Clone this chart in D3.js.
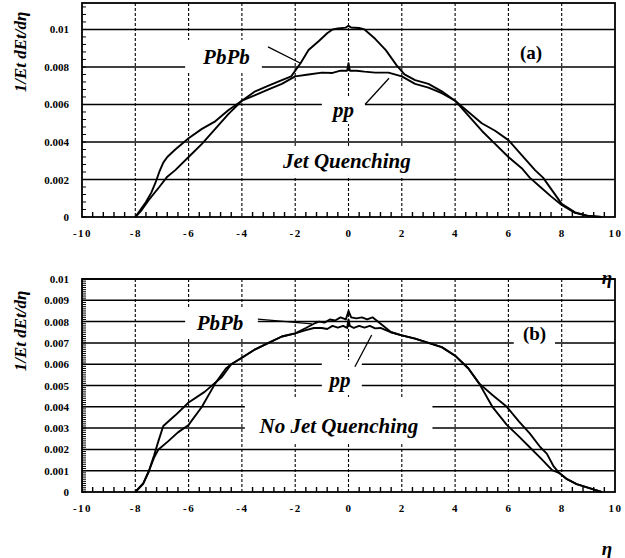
<!DOCTYPE html>
<html>
<head>
<meta charset="utf-8">
<script src="https://cdn.jsdelivr.net/npm/d3@7"></script>
<style>
    html, body { margin: 0; padding: 0; background: #fff; }
    svg { display: block; }
    .tick text { font-family: "Liberation Serif", serif; font-weight: bold; font-size: 11px; fill: #000; }
    .x-axis .tick text { letter-spacing: 1.5px; }
    .note { font-family: "Liberation Serif", serif; font-weight: bold; font-style: italic; fill: #000; }
    .plain { font-style: normal; }
</style>
</head>
<body>
<svg id="chart" width="625" height="558"></svg>
<script>
(function(){
    'use strict';

    /*******************************************************************
     *                              DATA                               *
     *******************************************************************/

    //Major ticks on eta axis
    var etaTicks = [-10, -8, -6, -4, -2, 0, 2, 4, 6, 8, 10];

    //Value ticks, panel (a) and (b)
    var yTicksA = [0, 0.002, 0.004, 0.006, 0.008, 0.01];
    var yTicksB = [0, 0.001, 0.002, 0.003, 0.004, 0.005, 0.006, 0.007, 0.008, 0.009, 0.01];

    //Panel (a), jet quenching : [eta, 1/Et dEt/deta]
    var ppA = [
        [-8.0, 0], [-7.8, 0.0004], [-7.6, 0.0008], [-7.4, 0.0013], [-7.25, 0.0018],
        [-7.1, 0.0024], [-6.95, 0.0029], [-6.8, 0.0032], [-6.5, 0.0036], [-6.0, 0.0042],
        [-5.5, 0.0047], [-5.0, 0.0051], [-4.5, 0.0057], [-4.0, 0.0062], [-3.5, 0.0065],
        [-3.0, 0.0068], [-2.5, 0.0071], [-2.0, 0.0075], [-1.5, 0.0076], [-1.0, 0.0077],
        [-0.6, 0.00768], [-0.3, 0.0078], [-0.05, 0.0078], [0, 0.0082], [0.05, 0.0078],
        [0.3, 0.0078], [0.6, 0.00775], [1.0, 0.0077], [1.5, 0.0077], [2.0, 0.0075],
        [2.5, 0.0071], [3.0, 0.0069], [3.5, 0.0066], [4.0, 0.0062], [4.5, 0.0056],
        [5.0, 0.0050], [5.5, 0.0046], [6.0, 0.0041], [6.5, 0.0033], [7.0, 0.0025],
        [7.3, 0.0021], [7.6, 0.0015], [8.0, 0.0007], [8.5, 0.00025], [9.0, 0.00006], [9.5, 0]
    ];

    var pbpbA = [
        [-8.0, 0], [-7.8, 0.0003], [-7.5, 0.0009], [-7.1, 0.0016], [-6.8, 0.00215],
        [-6.5, 0.0025], [-6.0, 0.0032], [-5.5, 0.0039], [-5.0, 0.0047], [-4.5, 0.0055],
        [-4.0, 0.0062], [-3.5, 0.0067], [-3.0, 0.0070], [-2.5, 0.0073], [-2.15, 0.0075],
        [-1.8, 0.0082], [-1.5, 0.0089], [-1.1, 0.0094], [-0.8, 0.0098], [-0.6, 0.0100],
        [-0.4, 0.01005], [-0.1, 0.0101], [0, 0.0102], [0.1, 0.0101], [0.4, 0.01008],
        [0.6, 0.0100], [1.0, 0.0095], [1.4, 0.0089], [1.8, 0.0081], [2.1, 0.0076],
        [2.5, 0.0073], [3.0, 0.0071], [3.5, 0.0067], [4.0, 0.0062], [4.5, 0.0054],
        [5.0, 0.0046], [5.5, 0.0039], [6.0, 0.0032], [6.5, 0.0026], [6.8, 0.0021],
        [7.2, 0.0016], [7.6, 0.0011], [8.0, 0.00064], [8.5, 0.00022], [9.0, 0.00005], [9.5, 0]
    ];

    //Panel (b), no jet quenching
    var ppB = [
        [-8.0, 0], [-7.7, 0.0004], [-7.5, 0.00095], [-7.3, 0.0017], [-7.13, 0.0024],
        [-6.95, 0.0031], [-6.5, 0.0036], [-6.0, 0.0042], [-5.4, 0.0047], [-4.75, 0.0054],
        [-4.4, 0.0060], [-4.0, 0.0063], [-3.5, 0.0067], [-3.0, 0.0070], [-2.5, 0.0073],
        [-2.0, 0.00745], [-1.6, 0.0076], [-1.3, 0.0077], [-1.0, 0.0077], [-0.8, 0.00765],
        [-0.6, 0.0078], [-0.4, 0.00772], [-0.2, 0.0078], [-0.05, 0.0077], [0, 0.0081],
        [0.05, 0.0078], [0.2, 0.0077], [0.4, 0.0078], [0.6, 0.00772], [0.8, 0.0078],
        [1.0, 0.00768], [1.2, 0.0077], [1.4, 0.0076], [1.6, 0.0075], [2.0, 0.00735],
        [2.5, 0.0072], [3.0, 0.0070], [3.5, 0.0068], [4.0, 0.0064], [4.5, 0.0058],
        [4.9, 0.0051], [5.4, 0.00455], [5.94, 0.0040], [6.4, 0.0033], [6.8, 0.00275],
        [7.2, 0.0021], [7.44, 0.0018], [7.7, 0.0012], [7.9, 0.0009], [8.2, 0.0006],
        [8.56, 0.00037], [9.07, 0.00017], [9.5, 0]
    ];

    var pbpbB = [
        [-8.0, 0], [-7.7, 0.0004], [-7.5, 0.00095], [-7.3, 0.0016], [-7.13, 0.0020],
        [-6.75, 0.0024], [-6.4, 0.0028], [-6.0, 0.00315], [-5.5, 0.0040], [-5.0, 0.0051],
        [-4.6, 0.0058], [-4.4, 0.0060], [-4.0, 0.0063], [-3.5, 0.0067], [-3.0, 0.0070],
        [-2.5, 0.0073], [-2.0, 0.00745], [-1.6, 0.0077], [-1.3, 0.0079], [-1.1, 0.0080],
        [-0.9, 0.00795], [-0.7, 0.0081], [-0.5, 0.00805], [-0.3, 0.0082], [-0.1, 0.0081],
        [0, 0.0085], [0.1, 0.0082], [0.3, 0.00815], [0.5, 0.0082], [0.7, 0.0081],
        [0.9, 0.0082], [1.1, 0.0080], [1.3, 0.0078], [1.6, 0.0075], [2.0, 0.00735],
        [2.5, 0.0072], [3.0, 0.0070], [3.5, 0.0068], [4.0, 0.0064], [4.5, 0.0058],
        [4.9, 0.0051], [5.4, 0.0040], [5.94, 0.00315], [6.4, 0.0026], [6.8, 0.0021],
        [7.2, 0.0016], [7.64, 0.00103], [7.9, 0.0009], [8.2, 0.0006], [8.56, 0.00037],
        [9.07, 0.00017], [9.5, 0]
    ];

    /*******************************************************************
     *                            VARIABLES                            *
     *******************************************************************/

    var svg = d3.select('#chart');
    var left = 82,
        right = 615;

    var xScale = d3.scaleLinear()
        .domain([-10, 10])
        .range([left, right]);

    var line = d3.line()
        .x(function(d) { return xScale(d[0]); });

    /*******************************************************************
     *                             DRAWING                             *
     *******************************************************************/

    var a = drawPanel({
        top: 3, bottom: 217, yMax: 0.01141,
        yTicks: yTicksA, yMinor: 0.0004,
        series: [ppA, pbpbA]
    });

    note(a, 'PbPb', -4.58, 0.00853, 21, [-6.13, -3.25, 0.00944, 0.00773]);
    leader(a, [[-3.02, 0.00907], [-1.82, 0.00821]]);
    note(a, 'pp', -0.19, 0.00571, 21, [-1.0, 0.62, 0.00645, 0.00496]);
    leader(a, [[0.62, 0.006], [1.52, 0.0074]]);
    note(a, 'Jet Quenching', -0.06, 0.00299, 21, [-2.65, 2.57, 0.00379, 0.00219]);
    note(a, '(a)', 6.85, 0.0088, 19, null, true);
    etaLabel(277);
    yTitle(52);

    var b = drawPanel({
        top: 279, bottom: 492, yMax: 0.01,
        yTicks: yTicksB, yMinor: 0.0001,
        series: [ppB, pbpbB]
    });

    note(b, 'PbPb', -4.82, 0.00793, 21, [-6.13, -3.4, 0.00864, 0.00723]);
    leader(b, [[-3.4, 0.00812], [-1.37, 0.00789]]);
    note(b, 'pp', -0.32, 0.00526, 21, [-1.0, 0.5, 0.0062, 0.00455]);
    leader(b, [[0.24, 0.00588], [0.87, 0.00737]]);
    note(b, 'No Jet Quenching', -0.36, 0.0031, 21, [-3.89, 3.15, 0.00441, 0.00225]);
    note(b, '(b)', 6.98, 0.00746, 19, [6.2, 7.75, 0.00789, 0.00681], true);
    etaLabel(548);
    yTitle(331);

    /**
     * Draws one panel: grid, minor ticks, curves, tick labels and frame.
     * Returns the groups and its y scale so the notes can be placed.
     */
    function drawPanel(cfg) {
        var yScale = d3.scaleLinear()
            .domain([0, cfg.yMax])
            .range([cfg.bottom, cfg.top]);

        var g = svg.append('g');
        var grid = g.append('g');
        var boxes = g.append('g');
        var marks = g.append('g');

        //Solid horizontal grid lines
        grid.selectAll('line.h')
            .data(cfg.yTicks.slice(1))
            .enter()
            .append('line')
            .attr('x1', left)
            .attr('x2', right)
            .attr('y1', function(d) { return yScale(d); })
            .attr('y2', function(d) { return yScale(d); })
            .attr('stroke', '#000')
            .attr('stroke-width', 1.5);

        //Dashed vertical grid lines
        grid.selectAll('line.v')
            .data(etaTicks.slice(1, -1))
            .enter()
            .append('line')
            .attr('x1', function(d) { return xScale(d); })
            .attr('x2', function(d) { return xScale(d); })
            .attr('y1', cfg.top)
            .attr('y2', cfg.bottom)
            .attr('stroke', '#000')
            .attr('stroke-width', 1.1)
            .attr('stroke-dasharray', '3,2');

        //Minor ticks along the bottom
        var xMinor = d3.range(-10, 10.01, 0.4).filter(function(d) {
            return Math.abs(d / 2 - Math.round(d / 2)) > 0.01;
        });
        grid.selectAll('line.mx')
            .data(xMinor)
            .enter()
            .append('line')
            .attr('x1', function(d) { return xScale(d); })
            .attr('x2', function(d) { return xScale(d); })
            .attr('y1', cfg.bottom)
            .attr('y2', cfg.bottom - 5)
            .attr('stroke', '#000')
            .attr('stroke-width', 1.4);

        //Minor ticks along the left side
        var yMinor = d3.range(0, cfg.yMax, cfg.yMinor);
        grid.selectAll('line.my')
            .data(yMinor)
            .enter()
            .append('line')
            .attr('x1', left)
            .attr('x2', left + 4)
            .attr('y1', function(d) { return yScale(d); })
            .attr('y2', function(d) { return yScale(d); })
            .attr('stroke', '#000')
            .attr('stroke-width', 1);

        line.y(function(d) { return yScale(d[1]); });

        marks.selectAll('path')
            .data(cfg.series)
            .enter()
            .append('path')
            .attr('d', line)
            .attr('fill', 'none')
            .attr('stroke', '#000')
            .attr('stroke-width', 1.9)
            .attr('stroke-linejoin', 'round');

        //Tick labels only, the frame is drawn separately
        var xAxis = d3.axisBottom(xScale)
            .tickValues(etaTicks)
            .tickSize(0)
            .tickPadding(12)
            .tickFormat(function(d) { return String(d); });

        g.append('g')
            .attr('class', 'x-axis')
            .attr('transform', 'translate(0,' + cfg.bottom + ')')
            .call(xAxis)
            .call(function(s) { s.select('.domain').remove(); });

        var yAxis = d3.axisLeft(yScale)
            .tickValues(cfg.yTicks)
            .tickSize(0)
            .tickPadding(13)
            .tickFormat(d3.format('~g'));

        g.append('g')
            .attr('transform', 'translate(' + left + ',0)')
            .call(yAxis)
            .call(function(s) { s.select('.domain').remove(); });

        g.append('rect')
            .attr('x', left)
            .attr('y', cfg.top)
            .attr('width', right - left)
            .attr('height', cfg.bottom - cfg.top)
            .attr('fill', 'none')
            .attr('stroke', '#000')
            .attr('stroke-width', 1.8);

        return { g: marks, boxes: boxes, y: yScale };
    }

    /**
     * Writes a label, with an optional white box that breaks the grid
     */
    function note(p, text, eta, value, size, box, plain) {
        if (box) {
            p.boxes.append('rect')
                .attr('x', xScale(box[0]))
                .attr('y', p.y(box[2]))
                .attr('width', xScale(box[1]) - xScale(box[0]))
                .attr('height', p.y(box[3]) - p.y(box[2]))
                .attr('fill', '#fff');
        }
        p.g.append('text')
            .attr('class', plain ? 'note plain' : 'note')
            .attr('x', xScale(eta))
            .attr('y', p.y(value))
            .attr('dy', '0.35em')
            .attr('text-anchor', 'middle')
            .style('font-size', size + 'px')
            .text(text);
    }

    function leader(p, pts) {
        p.g.append('path')
            .attr('d', d3.line()
                .x(function(d) { return xScale(d[0]); })
                .y(function(d) { return p.y(d[1]); })(pts))
            .attr('fill', 'none')
            .attr('stroke', '#000')
            .attr('stroke-width', 1.3);
    }

    function etaLabel(y) {
        svg.append('text')
            .attr('class', 'note')
            .attr('x', 607)
            .attr('y', y)
            .attr('dy', '0.35em')
            .attr('text-anchor', 'middle')
            .style('font-size', '19px')
            .text('η');
    }

    function yTitle(y) {
        svg.append('text')
            .attr('class', 'note')
            .attr('transform', 'translate(20,' + y + ') rotate(-90)')
            .attr('dy', '0.35em')
            .attr('text-anchor', 'middle')
            .style('font-size', '17px')
            .text('1/Et dEt/dη');
    }
})();
</script>
</body>
</html>
